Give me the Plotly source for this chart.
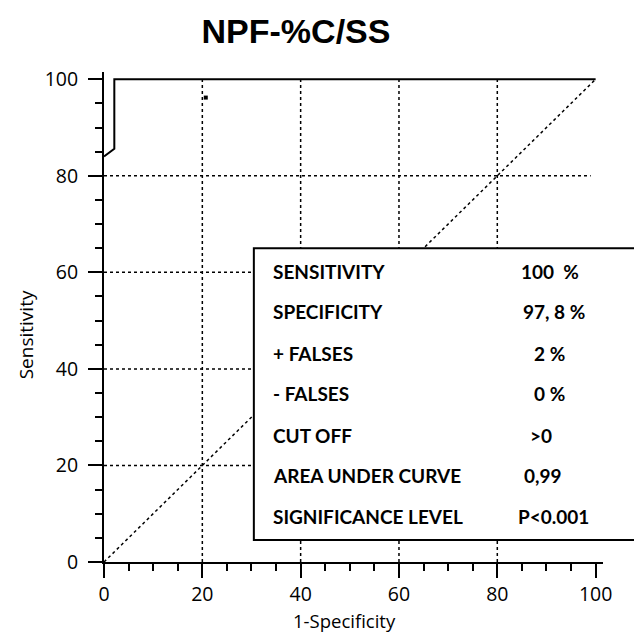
import plotly.graph_objects as go

# ---- data ----
roc_fpr = [0, 2.1, 2.1, 100]
roc_tpr = [84, 85.6, 100, 100]
point_fpr = [20.7]
point_tpr = [96.2]
diag_x = [0, 100]
diag_y = [0, 100]
grid_vals = [20, 40, 60, 80]
tick_vals = [0, 20, 40, 60, 80, 100]
tick_text = ["0", "20", "40", "60", "80", "100"]
table_labels = ["SENSITIVITY", "SPECIFICITY", "+ FALSES", "- FALSES", "CUT OFF",
                "AREA UNDER CURVE", "SIGNIFICANCE LEVEL"]
table_values = ["100  %", "97, 8 %", "2 %", "0 %", ">0", "0,99", "P<0.001"]

OFF = 8  # page body margin
W, H = 642 - 2 * OFF, 638 - OFF
# plot area in window pixels
PX0, PX1 = 104, 603.5
PY0, PY1 = 562, 71.5
L, R = PX0 - OFF, (OFF + W) - PX1
T, B = PY1 - OFF, (OFF + H) - PY0
PW, PH = PX1 - PX0, PY0 - PY1
RMAX = 101.5


def px_x(px):
    return (px - PX0) / PW


def px_y(py):
    return (PY0 - py) / PH


fig = go.Figure()

# dotted grid lines
for g in grid_vals:
    fig.add_trace(go.Scatter(x=[g, g], y=[0, 100], mode="lines",
                             line=dict(color="black", width=1.5, dash="dot"),
                             showlegend=False, hoverinfo="skip"))
    fig.add_trace(go.Scatter(x=[0, 99], y=[g, g], mode="lines",
                             line=dict(color="black", width=1.5, dash="dot"),
                             showlegend=False, hoverinfo="skip"))

# diagonal
fig.add_trace(go.Scatter(x=diag_x, y=diag_y, mode="lines",
                         line=dict(color="black", width=1.5, dash="dot"),
                         showlegend=False, hoverinfo="skip"))
# ROC curve
fig.add_trace(go.Scatter(x=roc_fpr, y=roc_tpr, mode="lines",
                         line=dict(color="black", width=2),
                         showlegend=False, cliponaxis=False))
fig.add_trace(go.Scatter(x=point_fpr, y=point_tpr, mode="markers",
                         marker=dict(color="black", size=4, symbol="square"),
                         showlegend=False))

axis_common = dict(
    range=[0, RMAX], showgrid=False, zeroline=False,
    showline=True, linecolor="black", linewidth=2,
    ticks="outside", ticklen=14, tickwidth=2, tickcolor="black",
    tickvals=tick_vals, ticktext=tick_text,
    tickfont=dict(family="Open Sans", size=19.5, color="black"),
    minor=dict(dtick=5, tick0=0, ticks="outside", ticklen=7, tickwidth=2,
               tickcolor="black", showgrid=False),
)
fig.update_xaxes(**axis_common, ticklabelstandoff=0)
fig.update_yaxes(**axis_common, ticklabelstandoff=6)

# table box
fig.add_shape(type="rect", xref="paper", yref="paper",
              x0=px_x(254), x1=px_x(660), y0=px_y(540), y1=px_y(248),
              fillcolor="white", line=dict(color="black", width=2), layer="above")

row_py = [271.5, 311.7, 353, 393, 435, 475, 516.7]
val_px = [519, 521, 532, 532, 528, 522, 516.5]
for lab, val, py, vx in zip(table_labels, table_values, row_py, val_px):
    fig.add_annotation(x=px_x(271), y=px_y(py), xref="paper", yref="paper",
                       text=lab, showarrow=False, xanchor="left", yanchor="middle",
                       font=dict(family="Lato", size=19, color="black", weight="bold"))
    fig.add_annotation(x=px_x(vx), y=px_y(py), xref="paper", yref="paper",
                       text=val, showarrow=False, xanchor="left", yanchor="middle",
                       font=dict(family="Lato", size=19, color="black", weight="bold"))

# axis titles
fig.add_annotation(x=px_x(26), y=px_y(335), xref="paper", yref="paper",
                   text="Sensitivity", textangle=-90, showarrow=False,
                   xanchor="center", yanchor="middle",
                   font=dict(family="Open Sans", size=19, color="black"))
fig.add_annotation(x=px_x(345), y=px_y(620.5), xref="paper", yref="paper",
                   text="1-Specificity", showarrow=False,
                   xanchor="center", yanchor="middle",
                   font=dict(family="Open Sans", size=18.5, color="black"))

fig.update_layout(
    width=W, height=H,
    margin=dict(l=L, r=R, t=T, b=B),
    paper_bgcolor="white", plot_bgcolor="white",
    title=dict(text="<b>NPF-%C/SS</b>", x=(296 - OFF) / W, xanchor="center",
               y=1 - (31 - OFF) / H, yanchor="middle",
               font=dict(family="Liberation Sans", size=34, color="black")),
    showlegend=False,
)

fig.write_html("out.html")
